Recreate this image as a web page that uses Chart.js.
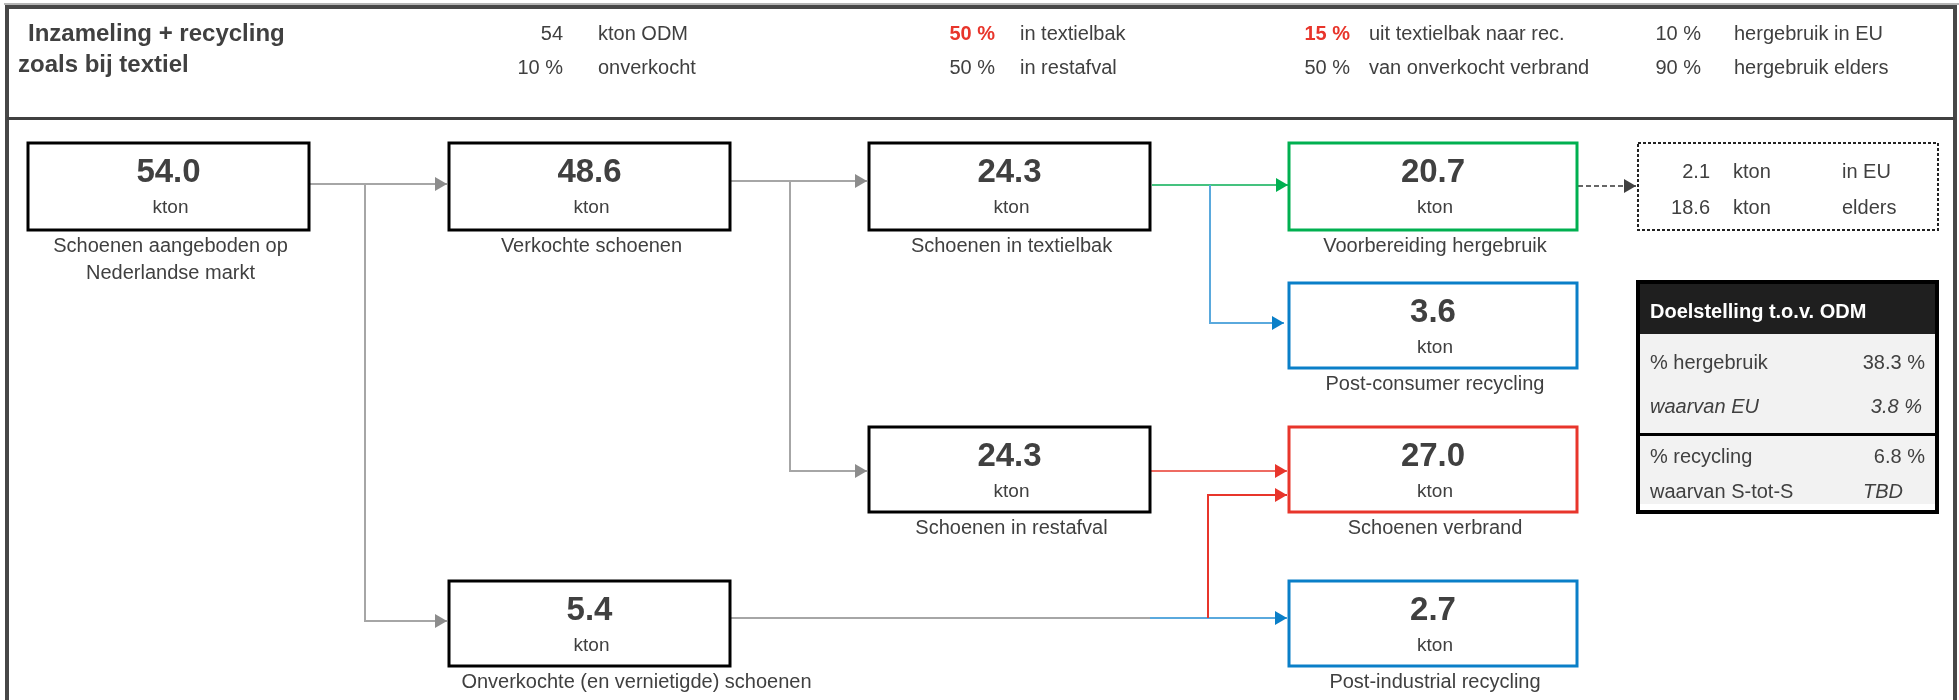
<!DOCTYPE html>
<html>
<head>
<meta charset="utf-8">
<script src="https://cdn.jsdelivr.net/npm/chart.js@4.4.1/dist/chart.umd.min.js"></script>
<style>
html,body{margin:0;padding:0;background:#ffffff;}
canvas{display:block;}
</style>
</head>
<body>
<canvas id="c" width="1959" height="700"></canvas>
<script>
// ---------------- DATA ----------------
const titleLines = ['Inzameling + recycling', 'zoals bij textiel'];
const paramValues = ['54', '10 %', '50 %', '50 %', '15 %', '50 %', '10 %', '90 %'];
const paramLabels = ['kton ODM', 'onverkocht', 'in textielbak', 'in restafval',
  'uit textielbak naar rec.', 'van onverkocht verbrand', 'hergebruik in EU', 'hergebruik elders'];
const paramHighlight = [false, false, true, false, true, false, false, false];

const nodeNames = ['Schoenen aangeboden op\nNederlandse markt', 'Verkochte schoenen',
  'Schoenen in textielbak', 'Voorbereiding hergebruik', 'Post-consumer recycling',
  'Schoenen in restafval', 'Schoenen verbrand', 'Onverkochte (en vernietigde) schoenen',
  'Post-industrial recycling'];
const nodeValues = [54.0, 48.6, 24.3, 20.7, 3.6, 24.3, 27.0, 5.4, 2.7];
const unitLabel = 'kton';

const reuseValues = [2.1, 18.6];
const reuseLabels = ['in EU', 'elders'];

const tableTitle = 'Doelstelling t.o.v. ODM';
const targetLabels = ['% hergebruik', 'waarvan EU', '% recycling', 'waarvan S-tot-S'];
const targetValues = ['38.3 %', '3.8 %', '6.8 %', 'TBD'];

// ---------------- LAYOUT / STYLE ----------------
const GREEN = '#00b050', BLUE = '#0a7fc8', RED = '#e8352b', TXT = '#404040';
const GRAYL = '#a6a6a6', GRAYH = '#8c8c8c';
const FONT = '"Liberation Sans", Arial, sans-serif';

const nodeBoxes = [
  {x0: 28,   x1: 309,  y0: 143, y1: 230, c: '#000', lx: 0},   // aangeboden
  {x0: 449,  x1: 730,  y0: 143, y1: 230, c: '#000', lx: 0},   // verkocht
  {x0: 869,  x1: 1150, y0: 143, y1: 230, c: '#000', lx: 0},   // textielbak
  {x0: 1289, x1: 1577, y0: 143, y1: 230, c: GREEN,  lx: 0},   // hergebruik
  {x0: 1289, x1: 1577, y0: 283, y1: 368, c: BLUE,   lx: 0},   // post-consumer
  {x0: 869,  x1: 1150, y0: 427, y1: 512, c: '#000', lx: 0},   // restafval
  {x0: 1289, x1: 1577, y0: 427, y1: 512, c: RED,    lx: 0},   // verbrand
  {x0: 449,  x1: 730,  y0: 581, y1: 666, c: '#000', lx: 45},  // onverkocht
  {x0: 1289, x1: 1577, y0: 581, y1: 666, c: BLUE,   lx: 0}    // post-industrial
];

const connectors = [
  {p: [[309,184],[447,184]], c: GRAYL, h: GRAYH, head: true},
  {p: [[365,184],[365,621],[447,621]], c: GRAYL, h: GRAYH, head: true},
  {p: [[730,181],[867,181]], c: GRAYL, h: GRAYH, head: true},
  {p: [[790,181],[790,471],[867,471]], c: GRAYL, h: GRAYH, head: true},
  {p: [[730,618],[1150,618]], c: GRAYL, h: GRAYH, head: false},
  {p: [[1152,185],[1288,185]], c: '#45c27f', h: GREEN, head: true},
  {p: [[1210,185],[1210,323],[1284,323]], c: '#5aa9dd', h: BLUE, head: true},
  {p: [[1150,618],[1287,618]], c: '#5aa9dd', h: BLUE, head: true},
  {p: [[1150,471],[1287,471]], c: '#ee6b62', h: RED, head: true},
  {p: [[1208,618],[1208,495],[1287,495]], c: RED, h: RED, head: true},
  {p: [[1578,186],[1636,186]], c: '#666', h: '#404040', head: true, dash: [5,3]}
];

const paramCols = [{vr: 563, lx: 598}, {vr: 995, lx: 1020}, {vr: 1350, lx: 1369}, {vr: 1701, lx: 1734}];
const paramRows = [34, 68];

// ---------------- DRAW PLUGIN ----------------
const flowPlugin = {
  id: 'flow',
  afterDraw(chart) {
    const ctx = chart.ctx;
    const sx = chart.scales.x, sy = chart.scales.y;
    const X = v => sx.getPixelForValue(v);
    const Y = v => sy.getPixelForValue(v);
    const text = (s, x, y, font, color, align) => {
      ctx.font = font; ctx.fillStyle = color; ctx.textAlign = align || 'left';
      ctx.textBaseline = 'middle'; ctx.fillText(s, X(x), Y(y));
    };
    const rect = (x0, y0, x1, y1, color, lw) => {
      ctx.lineWidth = lw; ctx.strokeStyle = color;
      ctx.strokeRect(X(x0), Y(y0), X(x1) - X(x0), Y(y1) - Y(y0));
    };
    ctx.save();

    // outer frame
    ctx.fillStyle = '#b5b5b5'; ctx.fillRect(X(4), Y(3), X(1959) - X(4), 2);
    ctx.lineWidth = 4; ctx.strokeStyle = '#474747';
    ctx.strokeRect(X(7), Y(7), X(1955) - X(7), Y(720) - Y(7));
    // header separator
    ctx.fillStyle = '#404040'; ctx.fillRect(X(7), Y(117), X(1955) - X(7), 3);

    // title
    text(titleLines[0], 28, 34, 'bold 24px ' + FONT, TXT);
    text(titleLines[1], 18, 65, 'bold 24px ' + FONT, TXT);

    // parameters
    paramValues.forEach((v, i) => {
      const col = paramCols[Math.floor(i / 2)], row = paramRows[i % 2];
      if (paramHighlight[i]) text(v, col.vr, row, 'bold 20px ' + FONT, RED, 'right');
      else text(v, col.vr, row, '20px ' + FONT, TXT, 'right');
      text(paramLabels[i], col.lx, row, '20px ' + FONT, TXT, 'left');
    });

    // connectors
    connectors.forEach(cn => {
      ctx.beginPath();
      ctx.setLineDash(cn.dash || []);
      ctx.lineWidth = 2; ctx.strokeStyle = cn.c;
      cn.p.forEach((pt, k) => {
        const px = X(pt[0]), py = Y(pt[1]);
        if (k === 0) ctx.moveTo(px, py); else ctx.lineTo(px, py);
      });
      ctx.stroke();
      ctx.setLineDash([]);
      if (cn.head) {
        const last = cn.p[cn.p.length - 1];
        ctx.beginPath();
        ctx.fillStyle = cn.h;
        const tx = X(last[0]), ty = Y(last[1]);
        ctx.moveTo(tx, ty); ctx.lineTo(tx - 12, ty - 7); ctx.lineTo(tx - 12, ty + 7);
        ctx.closePath(); ctx.fill();
      }
    });

    // nodes
    nodeBoxes.forEach((b, i) => {
      ctx.fillStyle = '#fff';
      ctx.fillRect(X(b.x0), Y(b.y0), X(b.x1) - X(b.x0), Y(b.y1) - Y(b.y0));
      rect(b.x0, b.y0, b.x1, b.y1, b.c, 3);
      const cx = (b.x0 + b.x1) / 2;
      text(nodeValues[i].toFixed(1), cx, b.y0 + 30, 'bold 33px ' + FONT, TXT, 'center');
      text(unitLabel, cx + 2, b.y0 + 65, '19px ' + FONT, TXT, 'center');
      nodeNames[i].split('\n').forEach((ln, k) => {
        text(ln, cx + 2 + b.lx, b.y1 + 16 + k * 27, '20px ' + FONT, TXT, 'center');
      });
    });

    // reuse split box (dashed)
    ctx.fillStyle = '#fff';
    ctx.fillRect(X(1638), Y(143), X(1938) - X(1638), Y(230) - Y(143));
    ctx.setLineDash([3, 2]);
    rect(1638, 143, 1938, 230, '#222', 2);
    ctx.setLineDash([]);
    reuseValues.forEach((v, i) => {
      const y = [172, 208][i];
      text(v.toFixed(1), 1710, y, '20px ' + FONT, TXT, 'right');
      text(unitLabel, 1733, y, '20px ' + FONT, TXT, 'left');
      text(reuseLabels[i], 1842, y, '20px ' + FONT, TXT, 'left');
    });

    // target table
    ctx.fillStyle = '#f2f2f2';
    ctx.fillRect(X(1638), Y(333), X(1937) - X(1638), Y(504) - Y(333));
    ctx.fillStyle = '#1f1f1f';
    ctx.fillRect(X(1638), Y(282), X(1937) - X(1638), Y(334) - Y(282));
    ctx.fillStyle = '#000';
    ctx.fillRect(X(1638), Y(433), X(1937) - X(1638), 3);
    rect(1638, 282, 1937, 512, '#000', 4);
    text(tableTitle, 1650, 312, 'bold 20px ' + FONT, '#ffffff');
    const rowsY = [363, 407, 457, 492];
    const italic = [false, true, false, false];
    const valItalic = [false, true, false, true];
    targetLabels.forEach((l, i) => {
      text(l, 1650, rowsY[i], (italic[i] ? 'italic ' : '') + '20px ' + FONT, TXT, 'left');
      const vr = i === 3 ? 1903 : (i === 1 ? 1922 : 1925);
      text(targetValues[i], vr, rowsY[i], (valItalic[i] ? 'italic ' : '') + '20px ' + FONT, TXT, 'right');
    });

    ctx.restore();
  }
};

new Chart(document.getElementById('c'), {
  type: 'scatter',
  data: { datasets: [] },
  options: {
    responsive: false,
    animation: false,
    layout: { padding: 0 },
    plugins: { legend: { display: false }, tooltip: { enabled: false }, title: { display: false } },
    scales: {
      x: { type: 'linear', min: 0, max: 1959, display: false },
      y: { type: 'linear', min: 0, max: 700, reverse: true, display: false }
    }
  },
  plugins: [flowPlugin]
});
</script>
</body>
</html>
